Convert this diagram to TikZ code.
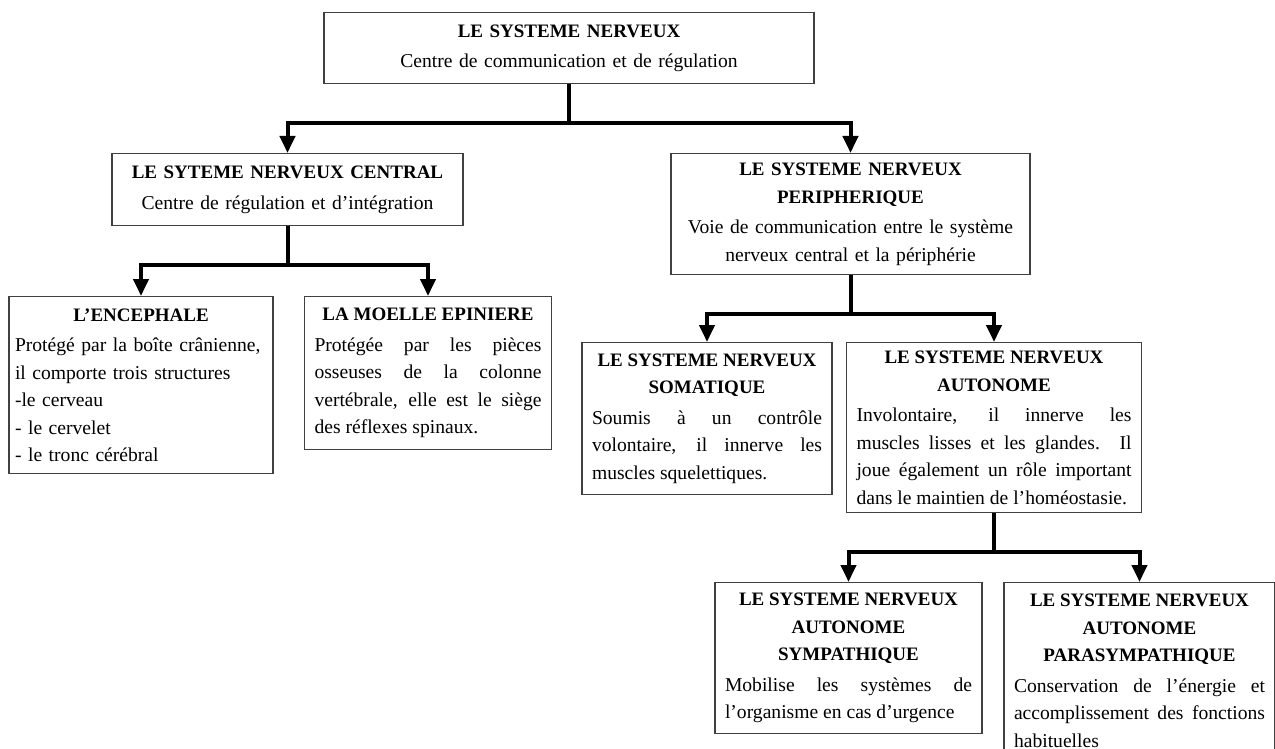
\documentclass[tikz,border=0pt]{standalone}
\usepackage{fontspec}
\setmainfont{Liberation Serif}
\usepackage{tikz}
\usetikzlibrary{trees,arrows.meta}
\usepackage{xcolor}
\hyphenpenalty=10000
\exhyphenpenalty=10000

\newcommand{\titre}[1]{{\centering\fontsize{9.5}{13.75}\selectfont\bfseries #1\par}\vspace{1.5pt}}

\begin{document}
\begin{tikzpicture}[growth parent anchor=north,
		level 1/.style={level distance=70.5pt, sibling distance=281.5pt},
		level 2/.style={level distance=71.5pt, sibling distance=143.5pt},
		level 3/.style={level distance=120pt, sibling distance=145.5pt, xshift=-2pt},
		edge from parent/.style={draw=none}]
		\tikzstyle{every node}=[draw=black!75, line width=0.6pt, rectangle, anchor=north, inner xsep=5pt, inner ysep=3pt, font=\fontsize{9.8}{13.75}\selectfont]
		\tikzstyle{fleche}=[line width=2pt, line join=miter, -{Triangle[width=7.5pt,length=8.5pt]}]
		\useasboundingbox (0,0) rectangle (637.5pt,-374.5pt);
		\node (sn) at (284.5pt,-6pt) [text width=235pt, minimum height=35.5pt, align=center]
		{\titre{LE SYSTEME NERVEUX}Centre de communication et de régulation}
		child {node (snc) [text width=165.5pt, minimum height=36pt, align=center]
			{\titre{LE SYTEME NERVEUX CENTRAL}Centre de régulation et d’intégration}
			child[xshift=-1.5pt] {node (enc) [text width=126pt, inner xsep=3pt, minimum height=88.5pt, align=left]
				{\titre{L’ENCEPHALE}Protégé par la boîte crânienne,\\il comporte trois structures\\-le cerveau\\- le cervelet\\- le tronc cérébral}}
			child[xshift=-1.5pt] {node (moelle) [text width=113.5pt, minimum height=76.5pt, align=justify]
				{\titre{LA MOELLE EPINIERE}Protégée par les pièces\linebreak osseuses de la colonne\linebreak vertébrale, elle est le siège\linebreak des réflexes spinaux.}}
		}
		child {node (snp) [text width=169.5pt, minimum height=60.5pt, align=center]
			{\titre{LE SYSTEME NERVEUX\\PERIPHERIQUE}Voie de communication entre le système\\nerveux central et la périphérie}
			child[level distance=94.5pt] {node (som) [text width=115pt, minimum height=76pt, align=justify]
				{\titre{LE SYSTEME NERVEUX\\SOMATIQUE}Soumis à un contrôle\linebreak volontaire, il innerve les\linebreak muscles squelettiques.}}
			child[level distance=94.5pt] {node (sna) [text width=137.5pt, minimum height=85pt, align=justify]
				{\titre{LE SYSTEME NERVEUX\\AUTONOME}Involontaire, il innerve les\linebreak muscles lisses et les glandes. Il\linebreak joue également un rôle important\linebreak dans le maintien de l’homéostasie.}
				child {node (symp) [text width=123.5pt, minimum height=75.5pt, align=justify]
					{\titre{LE SYSTEME NERVEUX\\AUTONOME\\SYMPATHIQUE}Mobilise les systèmes de\linebreak l’organisme en cas d’urgence}}
				child {node (para) [text width=125.5pt, minimum height=88pt, align=justify]
					{\titre{LE SYSTEME NERVEUX\\AUTONOME\\PARASYMPATHIQUE}Conservation de l’énergie et\linebreak accomplissement des fonctions\linebreak habituelles}}
			}
		};
		% fleches
		\draw[fleche] (sn.south) -- ++(0,-19.5pt) coordinate (b1) -| (snc.north);
		\draw[fleche] (b1) -| (snp.north);
		\draw[fleche] (snc.south) -- ++(0,-19.5pt) coordinate (b2) -| (enc.north);
		\draw[fleche] (b2) -| (moelle.north);
		\draw[fleche] (snp.south) -- ++(0,-19.5pt) coordinate (b3) -| (som.north);
		\draw[fleche] (b3) -| (sna.north);
		\draw[fleche] (sna.south) -- ++(0,-19.5pt) coordinate (b4) -| (symp.north);
		\draw[fleche] (b4) -| (para.north);
	\end{tikzpicture}
\end{document}
